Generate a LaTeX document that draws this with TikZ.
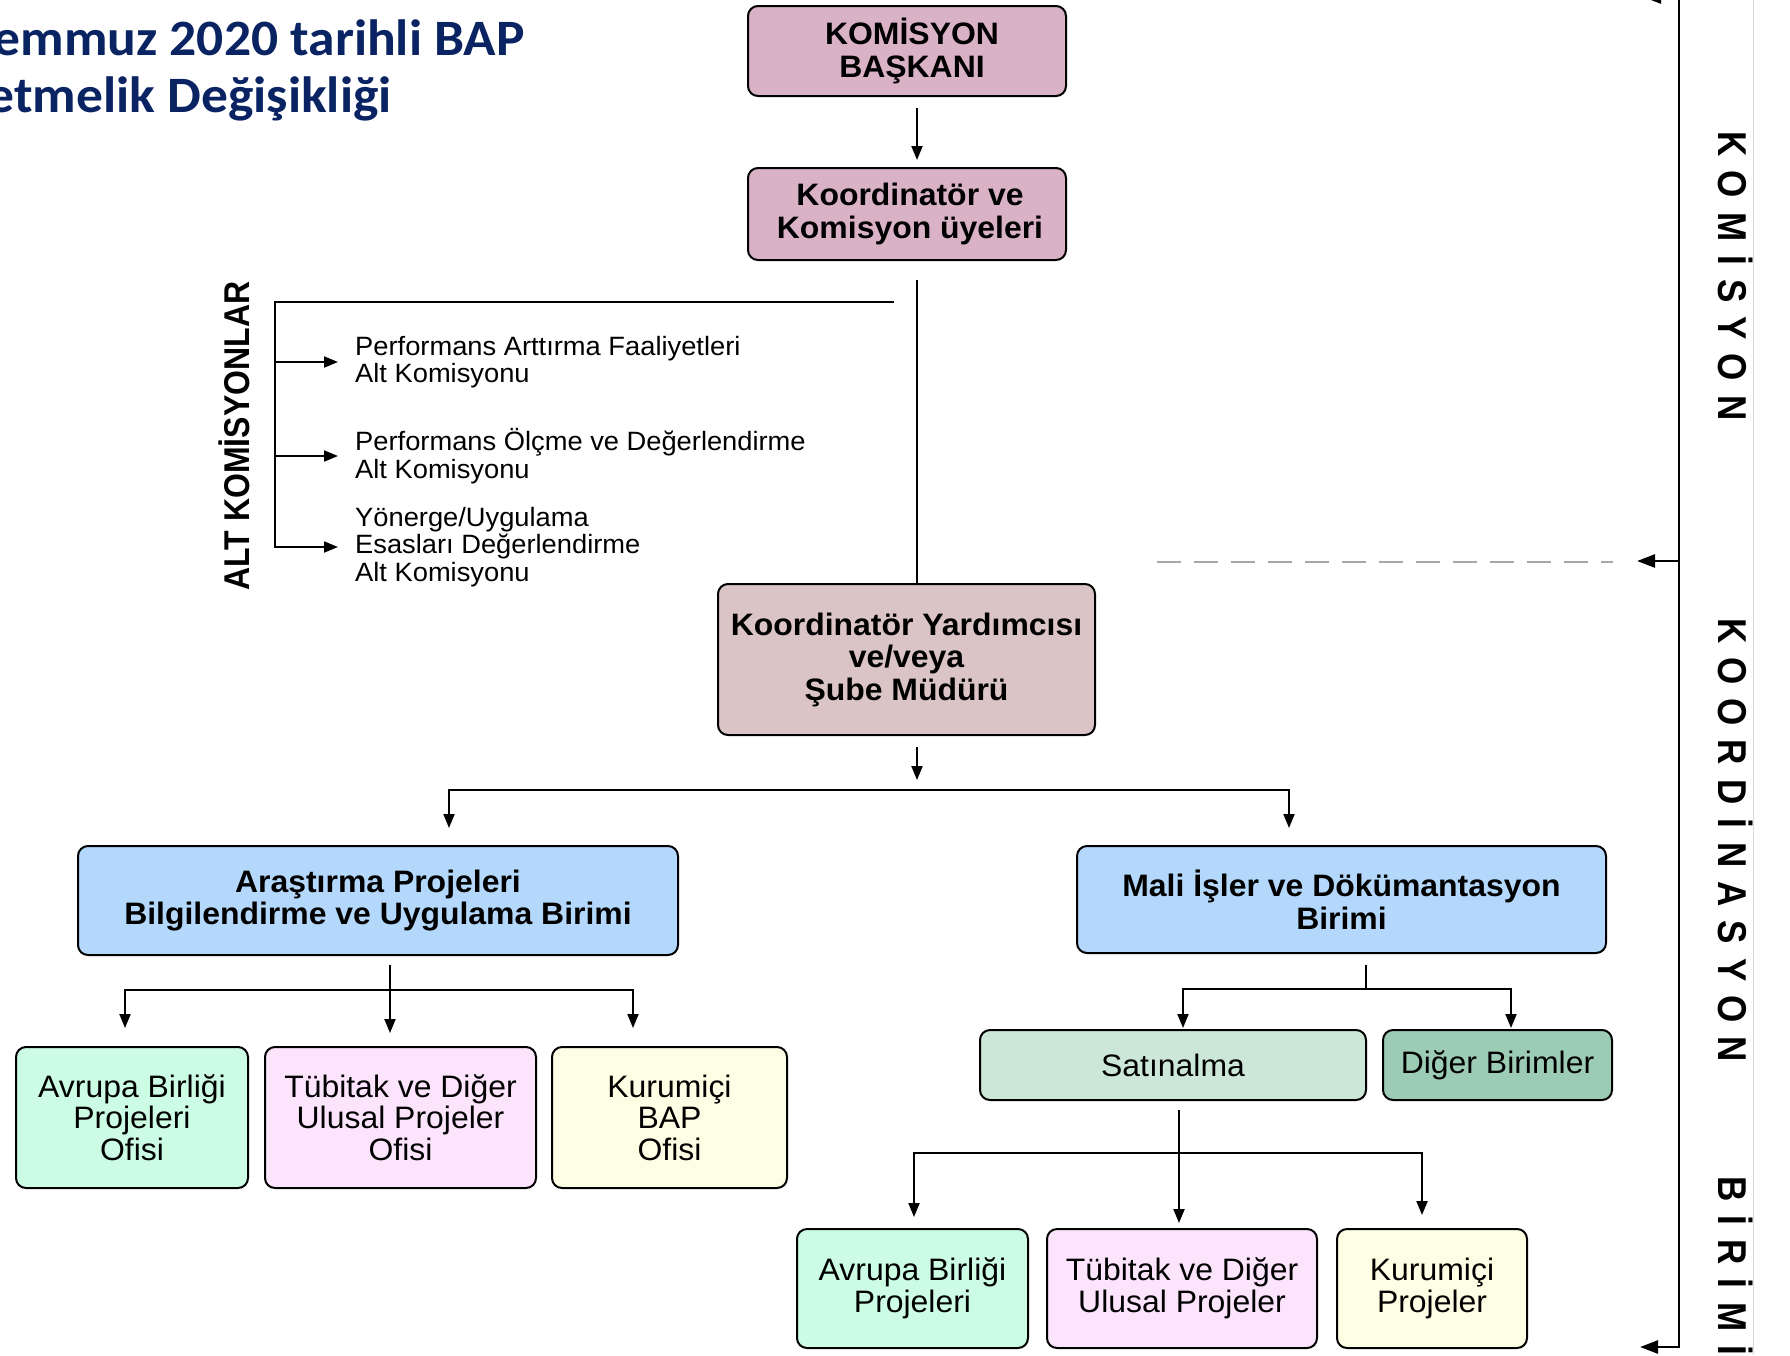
\documentclass[tikz,border=0pt]{standalone}
\usepackage{fontspec}
\usepackage{graphicx}
\usetikzlibrary{arrows.meta}
\newfontfamily\bxf{Liberation Sans}[FakeStretch=1.03]
\newfontfamily\plf{Liberation Sans}
\newfontfamily\ttlf{Carlito}[FakeStretch=1.05]
\definecolor{cpink}{HTML}{D9B2C6}
\definecolor{cdust}{HTML}{DAC4C6}
\definecolor{cblue}{HTML}{B4D8FC}
\definecolor{cmint}{HTML}{CCFCE4}
\definecolor{clav}{HTML}{FCE4FC}
\definecolor{cyel}{HTML}{FEFEE4}
\definecolor{csat}{HTML}{CCE6D8}
\definecolor{cdig}{HTML}{9CCCB4}
\definecolor{navy}{HTML}{0A2463}
\definecolor{dgray}{HTML}{A6A6A6}
\definecolor{lgray}{HTML}{DADADA}
\newcommand\gp{\hspace{14pt}}
\begin{document}
\begin{tikzpicture}[x=1pt,y=-1pt,
  bx/.style={draw=black, line width=2pt, rounded corners=10pt, inner sep=0pt, align=center},
  bbold/.style={font=\bxf\bfseries\fontsize{31}{32.5}\selectfont},
  breg/.style={font=\bxf\fontsize{31}{31.5}\selectfont},
  alttxt/.style={font=\bxf\fontsize{26.5}{27.5}\selectfont, align=left, inner sep=0pt, anchor=west},
  sidelbl/.style={font=\plf\bfseries\fontsize{35}{35}\selectfont, inner sep=0pt, rotate=-90},
  ttl/.style={font=\ttlf\bfseries\fontsize{51}{57}\selectfont, text=navy, inner sep=0pt},
  con/.style={line width=2pt, line join=miter},
  tip/.tip={Triangle[width=11pt,length=14pt]},
  arr/.style={con, -tip},
  darr/.style={con, tip-tip},
  ftip/.tip={Triangle[width=13pt,length=18pt]}
]
\useasboundingbox (0,0) rectangle (1790,1355);
\clip (0,0) rectangle (1790,1355);
\fill[white] (0,0) rectangle (1790,1355);

% title
\node[ttl, anchor=base east] (t1) at (525,55) {Temmuz 2020 tarihli BAP};
\node[ttl, anchor=base east] (t2) at (392,112) {etmelik Değişikliği};

% top boxes
\node[bx, bbold, fill=cpink, minimum width=318pt, minimum height=90pt] (b1) at (907,51) {\hspace{10pt}KOMİSYON\\\hspace{10pt}BAŞKANI};
\node[bx, bbold, fill=cpink, minimum width=318pt, minimum height=92pt] (b2) at (907,214) {\hspace{6pt}Koordinatör ve\\\hspace{6pt}Komisyon üyeleri};
\node[bx, bbold, fill=cdust, minimum width=377pt, minimum height=151pt] (b3) at (906.5,659.5) {Koordinatör Yardımcısı\\ve/veya\\Şube Müdürü};

\coordinate (p1) at (917,108);
\coordinate (p2) at (917,160);
\draw[arr] (p1) -- (p2);
\coordinate (p3) at (917,280);
\draw[con] (p3) -- (p3 |- b3.north);

% alt komisyonlar
\node[font=\plf\bfseries\fontsize{32}{32}\selectfont, inner sep=0pt, rotate=90, anchor=base] (ak) at (249,436) {\scalebox{1}[1.12]{ALT KOMİSYONLAR}};
\node[alttxt] (k1) at (355,362) {Performans Arttırma Faaliyetleri\\Alt Komisyonu};
\node[alttxt] (k2) at (355,456) {Performans Ölçme ve Değerlendirme\\Alt Komisyonu};
\node[alttxt] (k3) at (355,547) {Yönerge/Uygulama\\Esasları Değerlendirme\\Alt Komisyonu};
\coordinate (q0) at (894,302);
\coordinate (q1) at (275,302);
\draw[con, -tip] (q0) -- (q1) -- (q1 |- k3.west) -- ([xshift=-17pt]k3.west);
\draw[arr] (q1 |- k1.west) -- ([xshift=-17pt]k1.west);
\draw[arr] (q1 |- k2.west) -- ([xshift=-17pt]k2.west);

% second level
\coordinate (p4) at (917,747);
\coordinate (p5) at (917,780);
\draw[arr] (p4) -- (p5);
\coordinate (h1) at (449,790);
\coordinate (h2) at (1289,790);
\coordinate (h1e) at (449,828);
\coordinate (h2e) at (1289,828);
\draw[darr] (h1e) -- (h1) -- (h2) -- (h2e);

\node[bx, bbold, fill=cblue, minimum width=600pt, minimum height=109pt] (bl) at (378,900.5) {Araştırma Projeleri\\Bilgilendirme ve Uygulama Birimi};
\node[bx, bbold, fill=cblue, minimum width=529pt, minimum height=107pt] (br) at (1341.5,899.5) {Mali İşler ve Dökümantasyon\\Birimi};

% left children
\node[bx, breg, fill=cmint, minimum width=232pt, minimum height=141pt] (c1) at (132,1117.5) {Avrupa Birliği\\Projeleri\\Ofisi};
\node[bx, breg, fill=clav, minimum width=271pt, minimum height=141pt] (c2) at (400.5,1117.5) {Tübitak ve Diğer\\Ulusal Projeler\\Ofisi};
\node[bx, breg, fill=cyel, minimum width=235pt, minimum height=141pt] (c3) at (669.5,1117.5) {Kurumiçi\\BAP\\Ofisi};
\coordinate (l0) at (390,965);
\coordinate (l0e) at (390,1033);
\draw[arr] (l0) -- (l0e);
\coordinate (l1) at (125,990);
\coordinate (l2) at (633,990);
\coordinate (l1e) at (125,1028);
\coordinate (l2e) at (633,1028);
\draw[darr] (l1e) -- (l1) -- (l2) -- (l2e);

% right children
\node[bx, breg, fill=csat, minimum width=386pt, minimum height=70pt] (s1) at (1173,1065) {Satınalma};
\node[bx, breg, fill=cdig, minimum width=229pt, minimum height=70pt] (s2) at (1497.5,1065) {Diğer Birimler};
\coordinate (r0) at (1366,965);
\coordinate (r0e) at (1366,989);
\draw[con] (r0) -- (r0e);
\coordinate (r1) at (1183,989);
\coordinate (r2) at (1511,989);
\coordinate (r1e) at (1183,1028);
\coordinate (r2e) at (1511,1028);
\draw[darr] (r1e) -- (r1) -- (r2) -- (r2e);

% satinalma children
\node[bx, breg, fill=cmint, minimum width=231pt, minimum height=119pt] (d1) at (912.5,1288.5) {Avrupa Birliği\\Projeleri};
\node[bx, breg, fill=clav, minimum width=270pt, minimum height=119pt] (d2) at (1182,1288.5) {Tübitak ve Diğer\\Ulusal Projeler};
\node[bx, breg, fill=cyel, minimum width=190pt, minimum height=119pt] (d3) at (1432,1288.5) {Kurumiçi\\Projeler};
\coordinate (m0) at (1179,1110);
\coordinate (m0e) at (1179,1223);
\draw[arr] (m0) -- (m0e);
\coordinate (m1) at (914,1153);
\coordinate (m2) at (1422,1153);
\coordinate (m1e) at (914,1217);
\coordinate (m2e) at (1422,1215);
\draw[darr] (m1e) -- (m1) -- (m2) -- (m2e);

% right frame
\draw[lgray, line width=1pt] (1753,0) -- (1753,1355);
\coordinate (f0) at (1643,-3);
\coordinate (f1) at (1679,-3);
\coordinate (f2) at (1679,1347);
\coordinate (f3) at (1640,1347);
\coordinate (f4) at (1679,561);
\coordinate (f5) at (1637,561);
\draw[line width=2.6pt, line join=miter, ftip-ftip] (f0) -- (f1) -- (f2) -- (f3);
\draw[line width=2.6pt, -ftip] (f4) -- (f5);
\coordinate (g0) at (1157,562);
\coordinate (g1) at (1613,562);
\draw[dgray, line width=2pt, dash pattern=on 24pt off 13pt] (g0) -- (g1);

\node[sidelbl, anchor=base] (sk) at (1718,276) {\scalebox{1}[1.15]{K\gp O\gp M\gp İ\gp S\gp Y\gp O\gp N}};
\node[sidelbl, anchor=base] (so) at (1718,840) {\scalebox{1}[1.15]{K\gp O\gp O\gp R\gp D\gp İ\gp N\gp A\gp S\gp Y\gp O\gp N}};
\node[sidelbl, anchor=base west] (sb) at (1718,1176) {\scalebox{1}[1.15]{B\gp İ\gp R\gp İ\gp M\gp İ}};
\end{tikzpicture}
\end{document}
